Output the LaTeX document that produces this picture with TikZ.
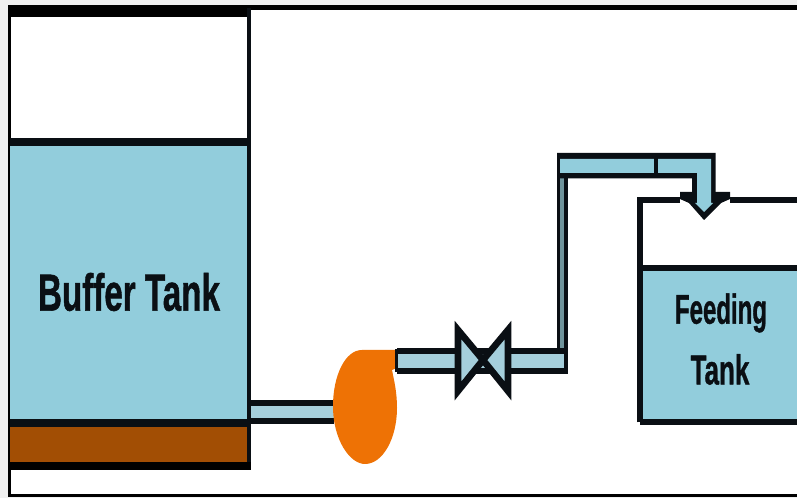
\documentclass[tikz,border=0pt]{standalone}
\usepackage{fontspec}
\setmainfont{Liberation Sans}
\newfontfamily\heavyfont[BoldFont={Liberation Sans Bold},BoldFeatures={FakeBold=1.2}]{Liberation Sans}
\definecolor{tankblue}{HTML}{92CDDC}
\definecolor{pipeblue}{HTML}{A5CFDC}
\definecolor{risergray}{HTML}{6F949C}
\definecolor{sludge}{HTML}{A24E04}
\definecolor{pumporange}{HTML}{EE7205}
\definecolor{outer}{HTML}{F0F0F0}
\definecolor{ink}{HTML}{0A0F14}
\tikzset{
  ln/.style={draw=ink,line width=4.5pt,line join=miter},
  lbl/.style={inner sep=0pt,text=ink,font=\heavyfont\bfseries}
}
\begin{document}
\begin{tikzpicture}[x=0.75pt,y=-0.75pt]
\useasboundingbox (0,0) rectangle (797,498);
\fill[outer] (0,0) rectangle (797,498);
\fill[white] (8,5) rectangle (797,496);
% frame
\fill[black] (8,5) rectangle (797,10.5);
\fill[black] (8,5) rectangle (10.5,497);
\fill[black] (8,494.5) rectangle (797,497);
% buffer tank
\fill[tankblue] (10,144) rectangle (249,424);
\fill[sludge] (10,424) rectangle (249,466);
\fill[black] (8,5) rectangle (251,17);
\draw[ink,line width=3pt] (249,8) -- (249,468);
\draw[ink,line width=6pt] (10,142.5) -- (250,142.5);
\draw[ink,line width=6pt] (10,423) -- (250,423);
\draw[black,line width=6pt] (10,466) -- (251,466);
\node[lbl] (buffer) at (129,292) {\fontsize{30}{30}\selectfont\scalebox{0.83}[1.3]{Buffer Tank}};
% lower pipe
\fill[pipeblue] (251,405) rectangle (334,420);
\draw[ln] (250,403.5) -- (334,403.5) (250,421.5) -- (334,421.5);
% upper pipe
\fill[pipeblue] (397,352) rectangle (566,370);
\fill[risergray] (559,176) rectangle (566,352);
\draw[ln] (397,351) -- (565,351);
\draw[ln] (397,371.5) -- (565,371.5);
\draw[ink,line width=2.4pt] (558.5,176) -- (558.5,349);
\draw[ink,line width=3pt] (566,176) -- (566,374);
% feeding tank
\fill[tankblue] (641,270) rectangle (797,422);
\draw[ln] (640,422.5) -- (640,200) -- (680,200);
\draw[ln] (730,200) -- (797,200);
\draw[ln] (640,268.5) -- (797,268.5);
\draw[ln] (640,422.5) -- (797,422.5);
% outlet head on the feeding tank
\fill[ink] (680,192) -- (730,192) -- (730,199) -- (721,203) -- (704,220) -- (689,203) -- (680,199) -- cycle;
% upper horizontal pipe and outlet
\fill[ink] (557,153) -- (715.5,153) -- (715.5,200) -- (692,200) -- (692,178.5) -- (557,178.5) -- cycle;
\fill[tankblue] (560,159) -- (711,159) -- (711,203) -- (713,203) -- (704,212) -- (695,203) -- (697,203) -- (697,173) -- (560,173) -- cycle;
\draw[ink,line width=3pt] (656,155) -- (656,175);
% valve
\draw[ln,line width=5pt,fill=pipeblue] (458,330) -- (458,391) -- (483,360) -- cycle;
\draw[ln,line width=5pt,fill=pipeblue] (508,330) -- (508,391) -- (483,360) -- cycle;
% pump
\fill[pumporange] (397,350) -- (362,350) .. controls (345,350) and (333,376) .. (333,406) .. controls (333,440) and (350,464) .. (365,464) .. controls (383,464) and (397,438) .. (397,408) .. controls (397,392) and (394,380) .. (392,370) -- (397,368) -- cycle;
\draw[ink,line width=2.2pt] (396.5,349) -- (396.5,372);
\node[lbl] (feeding) at (721,313) {\fontsize{25}{25}\selectfont\scalebox{0.72}[1.25]{Feeding}};
\node[lbl] (tank) at (720,369.5) {\fontsize{25}{25}\selectfont\scalebox{0.78}[1.25]{Tank}};
\end{tikzpicture}
\end{document}
